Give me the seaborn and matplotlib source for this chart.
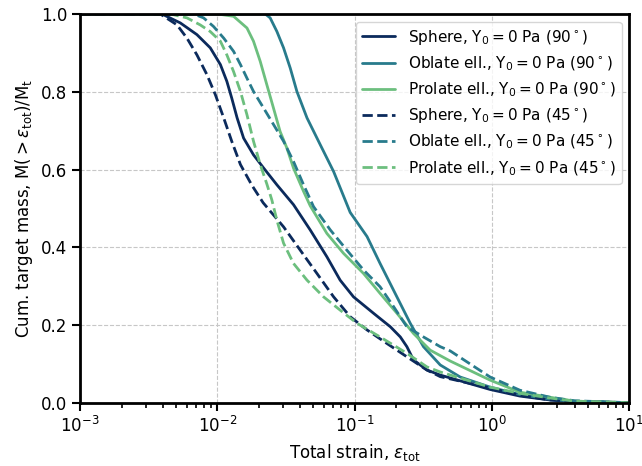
import numpy as np
import pandas as pd
import matplotlib
matplotlib.use('Agg')
import matplotlib.pyplot as plt
import seaborn as sns

# curves (strain, cumulative mass fraction)
sphere90_x = [0.001, 0.0035, 0.00404, 0.00536, 0.00708, 0.00886, 0.0105, 0.0117, 0.0127, 0.0139,
              0.0155, 0.0183, 0.0217, 0.0271, 0.0358, 0.0474, 0.0627, 0.0783, 0.098, 0.137,
              0.182, 0.215, 0.240, 0.268, 0.336, 0.420, 0.970, 1.6, 2.65, 4.0, 10]
sphere90_y = [1.0, 1.0, 0.998, 0.977, 0.947, 0.913, 0.870, 0.827, 0.784, 0.733,
              0.681, 0.638, 0.604, 0.561, 0.510, 0.445, 0.376, 0.316, 0.273, 0.231,
              0.196, 0.170, 0.145, 0.111, 0.085, 0.072, 0.035, 0.018, 0.008, 0.004, 0.001]

oblate90_x = [0.001, 0.0223, 0.0242, 0.0271, 0.0303, 0.0339, 0.0379, 0.0449, 0.0561, 0.0702,
              0.0927, 0.123, 0.153, 0.203, 0.254, 0.317, 0.420, 0.587, 0.970, 1.6,
              2.65, 4.0, 10]
oblate90_y = [1.0, 1.0, 0.990, 0.955, 0.913, 0.861, 0.801, 0.733, 0.664, 0.595,
              0.490, 0.428, 0.359, 0.273, 0.205, 0.145, 0.098, 0.067, 0.041, 0.022,
              0.010, 0.004, 0.001]

prolate90_x = [0.001, 0.0100, 0.0131, 0.0164, 0.0183, 0.0205, 0.0229, 0.0256, 0.0286, 0.0320,
               0.0358, 0.0424, 0.0474, 0.0627, 0.0828, 0.116, 0.153, 0.203, 0.268, 0.355,
               0.497, 0.970, 1.6, 2.65, 4.0, 10]
prolate90_y = [1.0, 1.0, 0.994, 0.964, 0.930, 0.878, 0.818, 0.758, 0.698, 0.656,
               0.604, 0.544, 0.507, 0.436, 0.385, 0.333, 0.282, 0.231, 0.179, 0.136,
               0.108, 0.059, 0.028, 0.015, 0.005, 0.001]

sphere45_x = [0.001, 0.0030, 0.00383, 0.00507, 0.00599, 0.00708, 0.00838, 0.00964, 0.0111, 0.0127,
              0.0147, 0.0178, 0.0215, 0.0303, 0.0401, 0.0531, 0.0702, 0.0927, 0.123, 0.172,
              0.240, 0.336, 0.420, 0.970, 1.6, 2.65, 4.0, 10]
sphere45_y = [1.0, 1.0, 1.0, 0.972, 0.938, 0.895, 0.844, 0.793, 0.733, 0.673,
              0.613, 0.560, 0.515, 0.453, 0.393, 0.333, 0.273, 0.222, 0.188, 0.153,
              0.119, 0.085, 0.068, 0.039, 0.020, 0.008, 0.004, 0.001]

oblate45_x = [0.001, 0.0060, 0.00670, 0.00792, 0.00935, 0.0111, 0.0131, 0.0147, 0.0164, 0.0183,
              0.0217, 0.0256, 0.0303, 0.0358, 0.0424, 0.0501, 0.0664, 0.0877, 0.116, 0.153,
              0.192, 0.240, 0.317, 0.420, 0.497, 0.970, 1.6, 2.65, 4.0, 10]
oblate45_y = [1.0, 1.0, 1.0, 0.990, 0.968, 0.938, 0.904, 0.870, 0.835, 0.801,
              0.758, 0.716, 0.673, 0.621, 0.561, 0.505, 0.445, 0.393, 0.342, 0.299,
              0.248, 0.196, 0.170, 0.145, 0.134, 0.067, 0.033, 0.015, 0.006, 0.001]

prolate45_x = [0.001, 0.0035, 0.00453, 0.00599, 0.00748, 0.00885, 0.0105, 0.0117, 0.0131, 0.0147,
               0.0164, 0.0183, 0.0205, 0.0229, 0.0249, 0.0271, 0.0303, 0.0358, 0.0449, 0.0593,
               0.0783, 0.104, 0.153, 0.240, 0.336, 0.420, 0.970, 1.6, 2.65, 4.0, 10]
prolate45_y = [1.0, 1.0, 1.0, 0.990, 0.972, 0.955, 0.930, 0.895, 0.852, 0.801,
               0.741, 0.673, 0.613, 0.563, 0.522, 0.470, 0.411, 0.359, 0.316, 0.273,
               0.239, 0.205, 0.170, 0.128, 0.093, 0.080, 0.041, 0.025, 0.013, 0.005, 0.001]

labels = [r'Sphere, $\mathrm{Y_0 = 0}$ Pa (90$^\circ$)',
          r'Oblate ell., $\mathrm{Y_0 = 0}$ Pa (90$^\circ$)',
          r'Prolate ell., $\mathrm{Y_0 = 0}$ Pa (90$^\circ$)',
          r'Sphere, $\mathrm{Y_0 = 0}$ Pa (45$^\circ$)',
          r'Oblate ell., $\mathrm{Y_0 = 0}$ Pa (45$^\circ$)',
          r'Prolate ell., $\mathrm{Y_0 = 0}$ Pa (45$^\circ$)']

curves = [(sphere90_x, sphere90_y), (oblate90_x, oblate90_y), (prolate90_x, prolate90_y),
          (sphere45_x, sphere45_y), (oblate45_x, oblate45_y), (prolate45_x, prolate45_y)]
colors = ['#0b2a5c', '#287b8c', '#6cbf7e'] * 2
styles = ['-'] * 3 + ['--'] * 3

sns.set_style('ticks', rc={'text.color': 'black', 'axes.labelcolor': 'black',
                           'xtick.color': 'black', 'ytick.color': 'black'})
plt.rcParams['font.family'] = ['DejaVu Sans']

fig, ax = plt.subplots(figsize=(6.42, 4.66), dpi=100)
fig.subplots_adjust(left=0.125, right=0.98, top=0.97, bottom=0.135)

for (x, y), lab, c, ls in zip(curves, labels, colors, styles):
    df = pd.DataFrame({'strain': x, 'mass': y})
    sns.lineplot(data=df, x='strain', y='mass', ax=ax, color=c, linestyle=ls,
                 linewidth=2, label=lab, estimator=None, sort=False)

ax.set_xscale('log')
ax.set_xlim(1e-3, 10)
ax.set_ylim(0, 1)
ax.set_yticks([0, 0.2, 0.4, 0.6, 0.8, 1.0])
ax.grid(True, which='major', ls='--', color='0.78', lw=0.8)
for s in ax.spines.values():
    s.set_linewidth(2)
    s.set_color('black')
ax.tick_params(which='major', length=6, width=1.5, labelsize=12, direction='out')
ax.tick_params(which='minor', length=3.5, width=1.2, direction='out')

ax.set_xlabel(r'Total strain, $\varepsilon_{\rm tot}$', fontsize=12)
ax.set_ylabel(r'Cum. target mass, $\mathrm{M}(>\varepsilon_{\rm tot})/\mathrm{M}_{\rm t}$', fontsize=12)
ax.legend(loc='upper right', fontsize=11, handlelength=2.2)

fig.savefig('out.png', dpi=100)
